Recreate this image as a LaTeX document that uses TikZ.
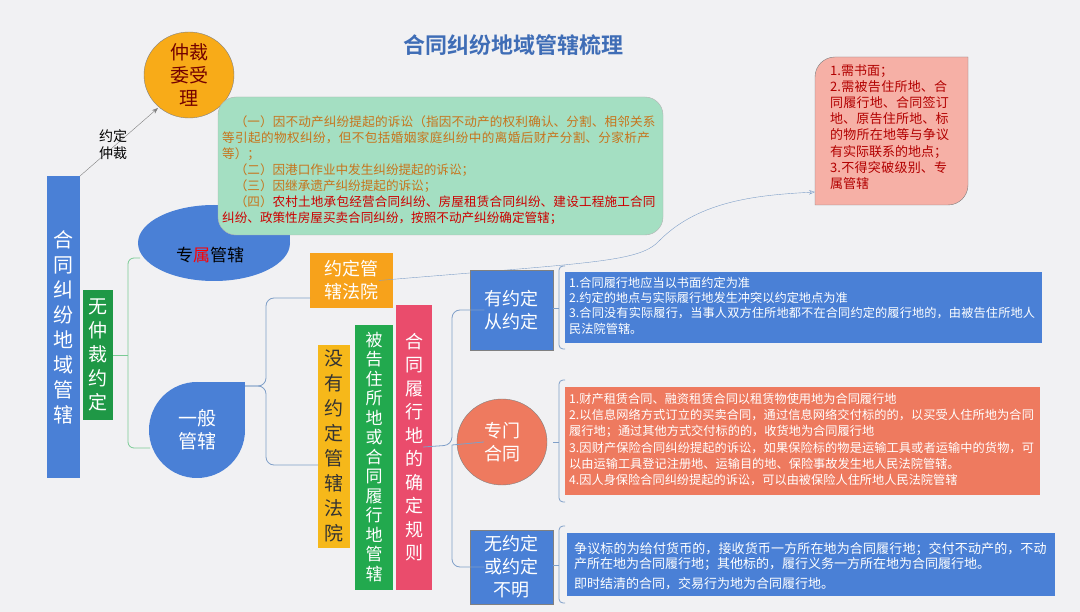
\documentclass[tikz,border=0pt]{standalone}
\usepackage{fontspec}
\setmainfont{Noto Sans CJK SC}
\newfontfamily\cjkb{Noto Sans CJK SC Bold}
\XeTeXlinebreaklocale "zh"
\XeTeXlinebreakskip=0pt plus 1pt
\usetikzlibrary{arrows.meta}
\definecolor{bgc}{HTML}{F1F1F3}
\definecolor{myblue}{HTML}{4A80D6}
\definecolor{mygreen}{HTML}{22A94E}
\definecolor{myorange}{HTML}{F7A21B}
\definecolor{myyellow}{HTML}{F6B81A}
\definecolor{mypink}{HTML}{EA4C6C}
\definecolor{mycoral}{HTML}{EE7A5F}
\definecolor{mint}{HTML}{A4DFC2}
\definecolor{salmon}{HTML}{F6B0A6}
\definecolor{brn}{HTML}{C7741C}
\definecolor{linec}{HTML}{7F9FC8}
\tikzset{
 vbar/.style={draw=none,inner sep=0pt,align=center,text=white},
 bx/.style={draw=none,inner sep=0pt,align=center,text=white},
 txtbox/.style={draw=none,inner sep=4pt,align=left,text=white,anchor=north west},
 conn/.style={draw=linec,line width=0.8pt},
}
\begin{document}
\begin{tikzpicture}[x=1pt,y=-1pt]
\fill[bgc] (0,0) rectangle (1080,612);
\useasboundingbox (0,0) rectangle (1080,612);
% title
\node[font=\cjkb\fontsize{22}{24}\selectfont,text=myblue!85!black] (title) at (513,45) {合同纠纷地域管辖梳理};
% left bar
\fill[myblue] (47,176) rectangle (80,478);
\node[vbar,font=\fontsize{20}{25}\selectfont] (main) at (63.5,327) {合\\同\\纠\\纷\\地\\域\\管\\辖};
\fill[mygreen!90!black] (83,290) rectangle (113,420);
\node[vbar,font=\fontsize{19}{24}\selectfont] (nozc) at (98,355) {无\\仲\\裁\\约\\定};
% arbitration
\draw[fill=myorange!90!yellow,draw=gray] (189,75) ellipse [x radius=45pt,y radius=43pt];
\node[align=center,text=red!45!black,font=\fontsize{19}{23}\selectfont] (zc) at (189,75) {仲裁\\委受\\理};
\coordinate (mtop) at (80,176);
\draw[gray,-{Stealth[length=6pt]}] (mtop) -- (158,108);
\node[align=center,font=\fontsize{14}{17}\selectfont] (yd) at (113,145) {约定\\仲裁};
% exclusive
\fill[myblue] (214,243) ellipse [x radius=76pt,y radius=38pt];
\fill[myblue] (214,205) rectangle (290,243);
% green box
\draw[draw=gray!60,fill=mint,rounded corners=18pt] (218,97) rectangle (663,235);
\node[anchor=north west,align=left,inner sep=0pt,text=brn,font=\fontsize{12.6}{16}\selectfont,text width=438pt] (gb) at (222,116) {\hspace*{1em}（一）因不动产纠纷提起的诉讼（指因不动产的权利确认、分割、相邻关系等引起的物权纠纷，但不包括婚姻家庭纠纷中的离婚后财产分割、分家析产等）；\\\hspace*{1em}（二）因港口作业中发生纠纷提起的诉讼；\\\hspace*{1em}（三）因继承遗产纠纷提起的诉讼；\\\hspace*{1em}（四）\textcolor{red!80!black}{农村土地承包经营合同纠纷、房屋租赁合同纠纷、建设工程施工合同纠纷、政策性房屋买卖合同纠纷，按照不动产纠纷确定管辖；}};
\node[font=\fontsize{17}{20}\selectfont] (zs) at (210,255) {专\textcolor{red}{属}管辖};
% general
\fill[myblue] (197,430) circle [radius=48pt];
\fill[myblue] (197,382) rectangle (245,430);
\node[align=center,text=white,font=\fontsize{19}{23}\selectfont] (yb) at (197,430) {一般\\管辖};
% agreed court
\fill[myorange] (310,253) rectangle (393,308);
\node[bx,font=\fontsize{18}{23}\selectfont] (ydgx) at (351.5,280.5) {约定管\\辖法院};
% pink note
\draw[draw=gray,fill=salmon] (835,57) -- (968,57) -- (968,185) arc[start angle=0,end angle=-90,radius=20pt] -- (815,205) -- (815,77) arc[start angle=180,end angle=90,radius=20pt] -- cycle;
\node[anchor=north west,align=left,inner sep=0pt,text=red!70!black,font=\fontsize{13}{16.2}\selectfont,text width=125pt] (pk) at (830,64) {1.需书面；\\2.需被告住所地、合同履行地、合同签订地、原告住所地、标的物所在地等与争议有实际联系的地点；\\3.不得突破级别、专属管辖};
\coordinate (pkin) at (815,192);
\draw[draw=linec,-{Stealth[length=6pt,open]}] (ydgx.east) .. controls (600,262) and (640,262) .. (660,240) .. controls (700,200) and (760,195) .. (pkin);
% no agreement
\fill[myyellow] (318,345) rectangle (350,548);
\node[vbar,text=black!80,font=\fontsize{19}{25}\selectfont] (myd) at (334,446) {没\\有\\约\\定\\管\\辖\\法\\院};
\fill[mygreen] (355,325) rectangle (393,590);
\node[vbar,font=\fontsize{17}{19.5}\selectfont] (bg) at (374,457) {被\\告\\住\\所\\地\\或\\合\\同\\履\\行\\地\\管\\辖};
\fill[mypink] (396,305) rectangle (432,590);
\node[vbar,font=\fontsize{18}{23.5}\selectfont] (ht) at (414,447) {合\\同\\履\\行\\地\\的\\确\\定\\规\\则};
% three branches
\fill[myblue,draw=gray] (470,270) rectangle (553,350);
\node[bx,font=\fontsize{18}{23}\selectfont] (yyd) at (511.5,310) {有约定\\从约定};
\draw[fill=mycoral,draw=gray] (502,442) ellipse [x radius=45pt,y radius=43pt];
\node[bx,font=\fontsize{18}{23}\selectfont] (zm) at (502,442) {专门\\合同};
\fill[myblue,draw=gray] (470,530) rectangle (553,604);
\node[bx,font=\fontsize{18}{23}\selectfont] (wyd) at (511.5,567) {无约定\\或约定\\不明};
% detail boxes
\fill[myblue] (565,272) rectangle (1042,343);
\node[txtbox,text width=469pt,font=\fontsize{12.2}{15.2}\selectfont] (t1) at (565,273) {1.合同履行地应当以书面约定为准\\2.约定的地点与实际履行地发生冲突以约定地点为准\\3.合同没有实际履行，当事人双方住所地都不在合同约定的履行地的，由被告住所地人民法院管辖。};
\fill[mycoral] (565,387) rectangle (1040,495);
\node[txtbox,text width=467pt,font=\fontsize{12.2}{16.2}\selectfont] (t2) at (565,389) {1.财产租赁合同、融资租赁合同以租赁物使用地为合同履行地\\2.以信息网络方式订立的买卖合同，通过信息网络交付标的的，以买受人住所地为合同履行地；通过其他方式交付标的的，收货地为合同履行地\\3.因财产保险合同纠纷提起的诉讼，如果保险标的物是运输工具或者运输中的货物，可以由运输工具登记注册地、运输目的地、保险事故发生地人民法院管辖。\\4.因人身保险合同纠纷提起的诉讼，可以由被保险人住所地人民法院管辖};
\fill[myblue] (567,533) rectangle (1055,596);
\node[txtbox,text width=476pt,font=\fontsize{13}{15.5}\selectfont] (t3) at (570,538) {争议标的为给付货币的，接收货币一方所在地为合同履行地；交付不动产的，不动产所在地为合同履行地；其他标的，履行义务一方所在地为合同履行地。\\[4pt]即时结清的合同，交易行为地为合同履行地。};
% connectors
\draw[conn,draw=mygreen!60] (113,355) -- (128,355);
\draw[conn,draw=mygreen!60,rounded corners=6pt] (140,258) -- (128,258) -- (128,448) -- (150,448);
\draw[conn,rounded corners=8pt] (245,386) -- (266,386) -- (266,298) -- (310,298);
\draw[conn,rounded corners=8pt] (245,386) -- (266,386) -- (266,465) -- (318,465);
\draw[conn,rounded corners=8pt] (ht.east) -- (452,445) -- (452,310) -- (yyd.west);
\draw[conn,rounded corners=8pt] (452,445) -- (452,567) -- (wyd.west);
\draw[conn] (452,445) -- (zm.west);
\foreach \n/\ya/\yb/\ym in {t1/266/349/308, t2/380/502/442, t3/526/603/565}{
 \draw[conn,rounded corners=4pt] (565,\ya) -- (559,\ya) -- (559,\yb) -- (565,\yb);
 \draw[conn] (553,\ym) -- (559,\ym);
}
\end{tikzpicture}
\end{document}
